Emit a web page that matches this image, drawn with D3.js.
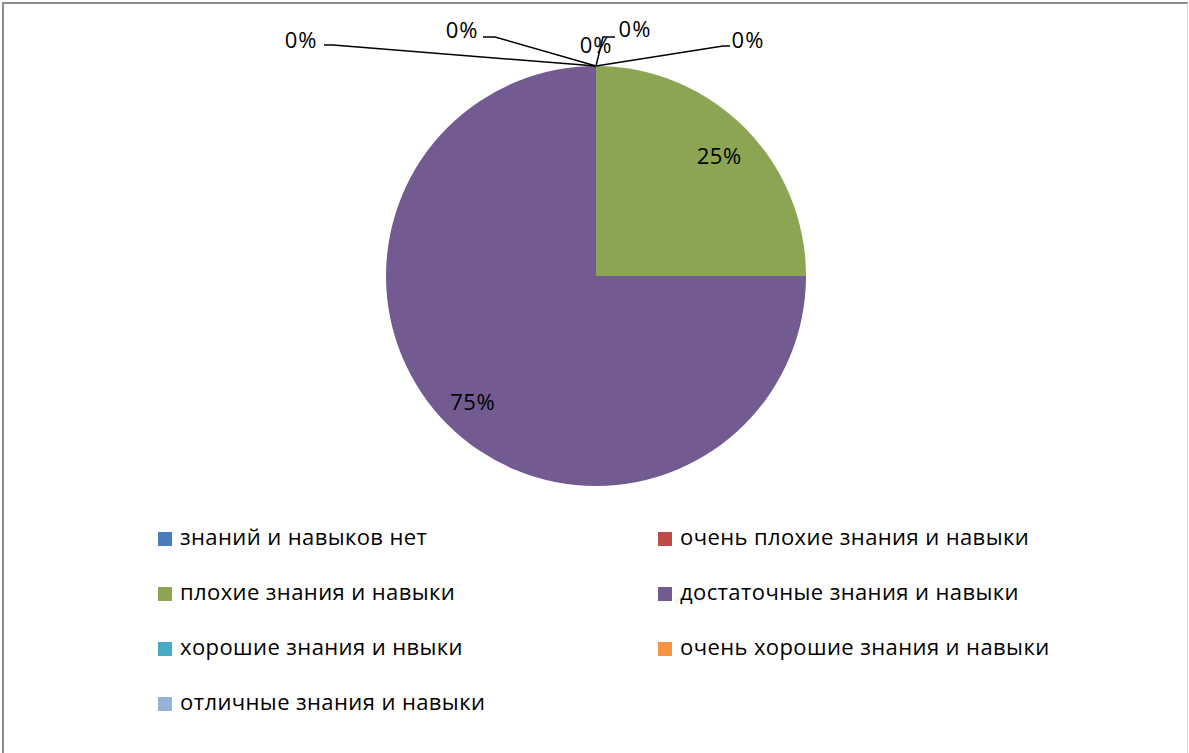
<!DOCTYPE html>
<html>
<head>
<meta charset="utf-8">
<script src="https://cdn.jsdelivr.net/npm/d3@7"></script>
<style>
  html, body { margin: 0; padding: 0; background: #fff; }
  svg { display: block; }
</style>
</head>
<body>
<div id="chart"></div>
<script>
// data
const categories = [
    "знаний и навыков нет",
    "очень плохие знания и навыки",
    "плохие знания и навыки",
    "достаточные знания и навыки",
    "хорошие знания и нвыки",
    "очень хорошие знания и навыки",
    "отличные знания и навыки"
];
const values = [0, 0, 25, 75, 0, 0, 0];
const sliceColors = ["#4a7ebb", "#be4b48", "#8ba552", "#735a90", "#46aac5", "#f69240", "#95b3d7"];

// where the 0% labels sit, relative to the top of the pie (layout only)
const zeroLabelLayout = {
    0: { dx: 152, dy: -26, elbow: [127, -20], end: [134, -20] },
    1: { dx: 39, dy: -37, elbow: [7, -29], end: [19, -29] },
    4: { dx: 0, dy: -21, elbow: null, end: null },
    5: { dx: -134, dy: -36, elbow: [-101, -29], end: [-113, -29] },
    6: { dx: -295, dy: -26, elbow: [-263, -21], end: [-272, -21] }
};

function drawPie() {
    const width = 1189, height = 753;
    const cx = 596, cy = 276, radius = 210;
    const fontFamily = "'Open Sans', 'DejaVu Sans', sans-serif";

    const svg = d3.select("#chart")
        .append("svg")
        .attr("width", width)
        .attr("height", height);

    // chart area border
    svg.append("line")
        .attr("x1", 3).attr("y1", 3).attr("x2", 3).attr("y2", height)
        .attr("stroke", "#8c8c8c").attr("stroke-width", 2);
    svg.append("line")
        .attr("x1", 2).attr("y1", 3).attr("x2", width - 1).attr("y2", 3)
        .attr("stroke", "#8c8c8c").attr("stroke-width", 2);
    svg.append("line")
        .attr("x1", width - 1.5).attr("y1", 3).attr("x2", width - 1.5).attr("y2", height)
        .attr("stroke", "#d9d9d9").attr("stroke-width", 1);

    const data = categories.map((c, i) => ({ category: c, value: values[i], index: i }));

    const pie = d3.pie()
        .sort(null)
        .value(d => d.value);

    const arcs = pie(data);

    const color = d3.scaleOrdinal()
        .domain(categories)
        .range(sliceColors);

    const arc = d3.arc()
        .innerRadius(0)
        .outerRadius(radius);

    const labelArc = d3.arc()
        .innerRadius(radius * 0.83)
        .outerRadius(radius * 0.83);

    const g = svg.append("g")
        .attr("transform", `translate(${cx},${cy})`);

    g.selectAll(".slice")
        .data(arcs.filter(d => d.value > 0))
        .enter()
        .append("path")
        .attr("class", "slice")
        .attr("d", arc)
        .attr("fill", d => color(d.data.category));

    // labels inside non-zero slices
    g.selectAll(".pct-label")
        .data(arcs.filter(d => d.value > 0))
        .enter()
        .append("text")
        .attr("class", "pct-label")
        .attr("transform", d => `translate(${labelArc.centroid(d)})`)
        .attr("text-anchor", "middle")
        .attr("dy", "0.5em")
        .style("font-family", fontFamily)
        .style("font-size", "22px")
        .style("letter-spacing", "0.6px")
        .style("fill", "#000")
        .text(d => `${d.value}%`);

    // zero-valued slices: labels pushed outside with leader lines
    const zeros = arcs.filter(d => d.value === 0);
    zeros.forEach(d => {
        const lay = zeroLabelLayout[d.data.index];
        const p = d3.pointRadial(d.startAngle, radius);
        if (lay.elbow) {
            g.append("polyline")
                .attr("points", [p, [p[0] + lay.elbow[0], p[1] + lay.elbow[1]], [p[0] + lay.end[0], p[1] + lay.end[1]]]
                    .map(q => q.join(",")).join(" "))
                .attr("fill", "none")
                .attr("stroke", "#000")
                .attr("stroke-width", 1.5);
        }
        g.append("text")
            .attr("x", p[0] + lay.dx)
            .attr("y", p[1] + lay.dy)
            .attr("text-anchor", "middle")
            .attr("dy", "0.36em")
            .style("font-family", fontFamily)
            .style("font-size", "22px")
            .style("letter-spacing", "1px")
            .style("fill", "#000")
            .text(`${d.value}%`);
    });

    // legend, two columns
    const colX = d3.scalePoint().domain([0, 1]).range([158, 658]);
    const rowY = d3.scalePoint().domain(d3.range(4)).range([545, 710]);

    const legend = svg.selectAll(".legend-item")
        .data(data)
        .enter()
        .append("g")
        .attr("class", "legend-item")
        .attr("transform", d => `translate(${colX(d.index % 2)},${rowY(Math.floor(d.index / 2))})`);

    legend.append("rect")
        .attr("x", 0)
        .attr("y", -13)
        .attr("width", 14)
        .attr("height", 14)
        .attr("fill", d => color(d.category));

    legend.append("text")
        .attr("x", 22)
        .attr("y", 0)
        .style("font-family", fontFamily)
        .style("font-size", "22px")
        .style("letter-spacing", "0.4px")
        .style("fill", "#000")
        .text(d => d.category);
}

window.addEventListener("load", drawPie);
</script>
</body>
</html>
